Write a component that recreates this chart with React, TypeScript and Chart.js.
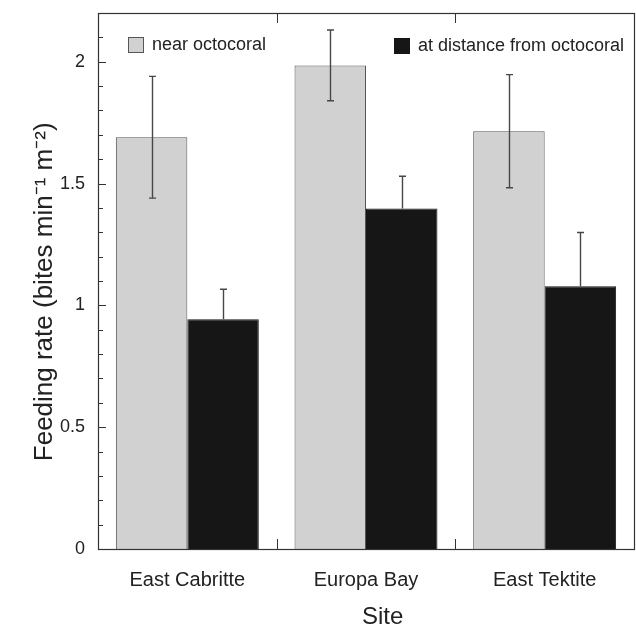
import React, { useEffect, useRef } from "react";
import { Chart, registerables } from "chart.js";

Chart.register(...registerables);

const sites = ["East Cabritte", "Europa Bay", "East Tektite"];
const seriesLabels = ["near octocoral", "at distance from octocoral"];
const nearValues = [1.69, 1.985, 1.715];
const nearErrors = [0.25, 0.145, 0.232];
const distantValues = [0.943, 1.398, 1.078];
const distantErrors = [0.123, 0.132, 0.221];
const errorBothSides = [true, false];
const yTickValues = [0, 0.5, 1, 1.5, 2];
const yTickLabels = ["0", "0.5", "1", "1.5", "2"];
const yMinorStep = 0.1;
const yMax = 2.2;
const yTitle = "Feeding rate (bites min\u207B\u00B9 m\u207B\u00B2)   ";
const xTitle = "     Site";

const FONT = '"Liberation Sans", Arial, Helvetica, sans-serif';

const errorBarPlugin = {
  id: "errorBars",
  afterDatasetsDraw(chart: any) {
    const { ctx, scales } = chart;
    const y = scales.y;
    const errs = [nearErrors, distantErrors];
    ctx.save();
    ctx.strokeStyle = "#474747";
    ctx.lineWidth = 1.4;
    chart.data.datasets.forEach((ds: any, di: number) => {
      const meta = chart.getDatasetMeta(di);
      meta.data.forEach((bar: any, i: number) => {
        const v = ds.data[i];
        const e = errs[di][i];
        const px = Math.round(bar.x) + 0.5;
        const pHi = y.getPixelForValue(v + e);
        const pLo = errorBothSides[di] ? y.getPixelForValue(v - e) : y.getPixelForValue(v);
        ctx.beginPath();
        ctx.moveTo(px, pLo);
        ctx.lineTo(px, pHi);
        ctx.moveTo(px - 3.5, pHi);
        ctx.lineTo(px + 3.5, pHi);
        if (errorBothSides[di]) {
          ctx.moveTo(px - 3.5, pLo);
          ctx.lineTo(px + 3.5, pLo);
        }
        ctx.stroke();
      });
    });
    ctx.restore();
  },
};

const frameLegendPlugin = {
  id: "frameLegend",
  afterDraw(chart: any) {
    const { ctx, chartArea: a, scales } = chart;
    const x = scales.x;
    const y = scales.y;
    ctx.save();
    ctx.strokeStyle = "#333";
    ctx.lineWidth = 1;
    ctx.beginPath();
    const n = Math.round(yMax / yMinorStep);
    for (let k = 0; k <= n; k++) {
      const v = k * yMinorStep;
      const py = Math.round(y.getPixelForValue(v)) + 0.5;
      const major = Math.abs(v * 2 - Math.round(v * 2)) < 1e-6;
      const len = major ? 8 : 5;
      ctx.moveTo(a.left, py);
      ctx.lineTo(a.left + len, py);
    }
    for (let i = 0; i < sites.length - 1; i++) {
      const px = Math.round((x.getPixelForValue(i) + x.getPixelForValue(i + 1)) / 2) + 0.5;
      ctx.moveTo(px, a.bottom);
      ctx.lineTo(px, a.bottom - 10);
      ctx.moveTo(px, a.top);
      ctx.lineTo(px, a.top + 10);
    }
    ctx.stroke();
    ctx.lineWidth = 1.2;
    ctx.strokeRect(Math.round(a.left) + 0.5, Math.round(a.top) + 0.5, Math.round(a.width), Math.round(a.height));

    // legend inside the plot
    const items = [
      { dx: 30, dy: 24 },
      { dx: 296, dy: 25 },
    ];
    ctx.font = `18px ${FONT}`;
    ctx.textBaseline = "middle";
    ctx.textAlign = "left";
    chart.data.datasets.forEach((ds: any, di: number) => {
      const it = items[di];
      const sx = a.left + it.dx;
      const sy = a.top + it.dy;
      ctx.fillStyle = ds.backgroundColor;
      ctx.fillRect(sx, sy, 16, 16);
      ctx.strokeStyle = ds.borderColor;
      ctx.lineWidth = 1;
      ctx.strokeRect(sx + 0.5, sy + 0.5, 15, 15);
      ctx.fillStyle = "#222";
      ctx.fillText(ds.label, sx + 24, sy + 8);
    });
    ctx.restore();
  },
};

export default function App() {
  const ref = useRef<HTMLCanvasElement | null>(null);

  useEffect(() => {
    if (!ref.current) return;
    Chart.defaults.font.family = FONT;
    const chart = new Chart(ref.current, {
      type: "bar",
      data: {
        labels: sites,
        datasets: [
          {
            label: seriesLabels[0],
            data: nearValues,
            backgroundColor: "#d0d1d0",
            borderColor: "#555555",
            borderWidth: 1,
            categoryPercentage: 0.8,
            barPercentage: 1.0,
          },
          {
            label: seriesLabels[1],
            data: distantValues,
            backgroundColor: "#161616",
            borderColor: "#161616",
            borderWidth: 1,
            categoryPercentage: 0.8,
            barPercentage: 1.0,
          },
        ],
      },
      options: {
        animation: false,
        responsive: true,
        maintainAspectRatio: false,
        layout: { padding: { left: 32, top: 13, right: 2, bottom: 0 } },
        plugins: {
          legend: { display: false },
          tooltip: { enabled: false },
        },
        scales: {
          x: {
            type: "category",
            offset: true,
            grid: { display: false, drawTicks: false },
            border: { display: false },
            ticks: {
              font: { size: 20 },
              color: "#222",
              padding: 19,
              maxRotation: 0,
              autoSkip: false,
            },
            title: {
              display: true,
              text: xTitle,
              font: { size: 24, lineHeight: 1.0 },
              color: "#222",
              padding: 0,
            },
            afterFit: (s: any) => {
              s.height = 80;
              s.paddingLeft = 0;
              s.paddingRight = 0;
            },
          },
          y: {
            min: 0,
            max: yMax,
            grid: { display: false, drawTicks: false },
            border: { display: false },
            ticks: {
              font: { size: 18 },
              color: "#222",
              padding: 13,
              callback: (v: any) => {
                const idx = yTickValues.findIndex((t) => Math.abs(t - Number(v)) < 1e-9);
                return idx >= 0 ? yTickLabels[idx] : "";
              },
            },
            afterBuildTicks: (s: any) => {
              s.ticks = yTickValues.map((v) => ({ value: v }));
            },
            title: {
              display: true,
              text: yTitle,
              font: { size: 26, lineHeight: 1.0 },
              color: "#222",
              padding: 0,
            },
            afterFit: (s: any) => {
              s.width = 66;
              s.paddingTop = 0;
              s.paddingBottom = 0;
            },
          },
        },
      },
      plugins: [errorBarPlugin, frameLegendPlugin],
    });
    return () => chart.destroy();
  }, []);

  return (
    <div style={{ position: "fixed", left: 0, top: 0, width: 636, height: 629, background: "#fff" }}>
      <canvas ref={ref} />
    </div>
  );
}
